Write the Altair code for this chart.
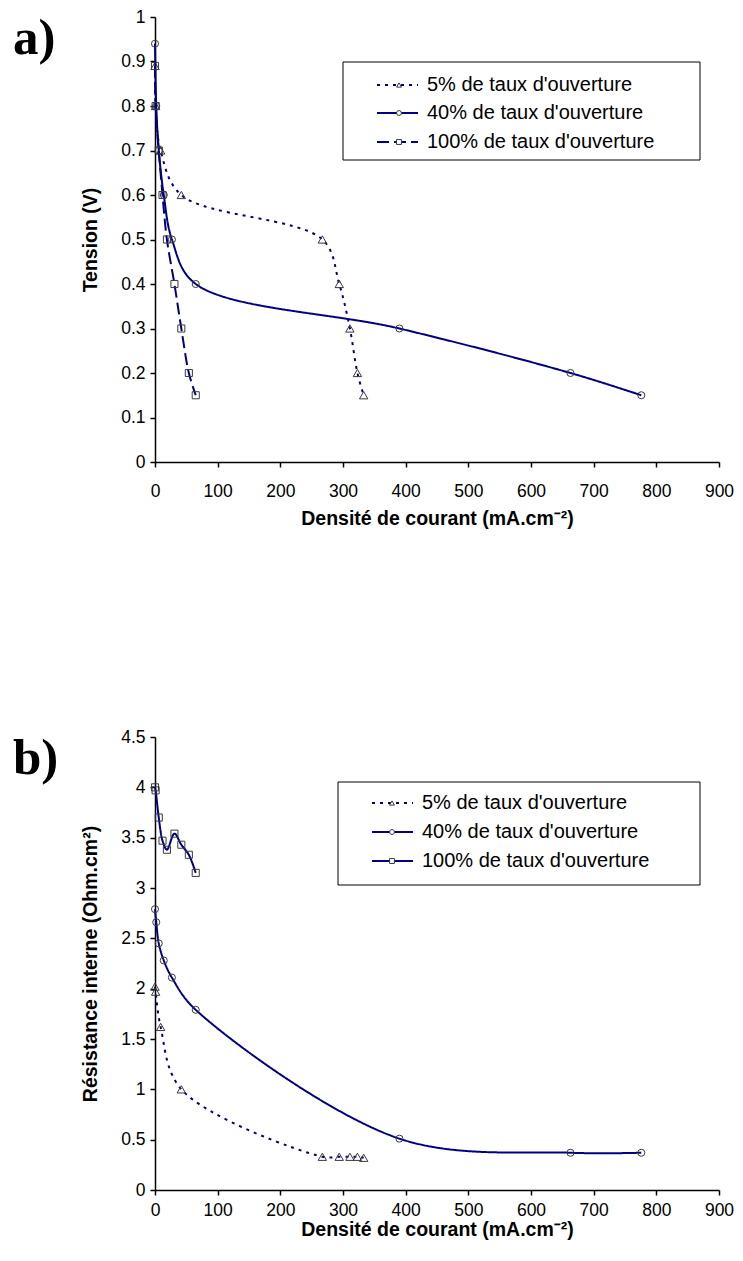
import altair as alt
import pandas as pd

# ---------------- data ----------------
series_names = ["5% de taux d'ouverture", "40% de taux d'ouverture", "100% de taux d'ouverture"]

# current density (mA.cm-2) for each series
j_5 = [0, 1, 9, 42, 267, 294, 311, 323, 333]
j_40 = [0, 2, 6, 14, 27, 65, 390, 663, 776]
j_100 = [0, 1, 6, 12, 19, 31, 42, 54, 65]

# a) voltage (V)
v_5 = [0.89, 0.80, 0.70, 0.60, 0.50, 0.40, 0.30, 0.20, 0.15]
v_40 = [0.94, 0.80, 0.70, 0.60, 0.50, 0.40, 0.30, 0.20, 0.15]
v_100 = [0.89, 0.80, 0.70, 0.60, 0.50, 0.40, 0.30, 0.20, 0.15]

# b) internal resistance (Ohm.cm2)
r_5 = [2.02, 1.97, 1.62, 1.00, 0.33, 0.33, 0.33, 0.33, 0.32]
r_40 = [2.79, 2.66, 2.45, 2.28, 2.11, 1.79, 0.51, 0.37, 0.37]
r_100 = [4.00, 3.97, 3.70, 3.47, 3.38, 3.54, 3.43, 3.33, 3.15]

x_ticks = [0, 100, 200, 300, 400, 500, 600, 700, 800, 900]
ya_ticks = [0, 0.1, 0.2, 0.3, 0.4, 0.5, 0.6, 0.7, 0.8, 0.9, 1]
yb_ticks = [0, 0.5, 1, 1.5, 2, 2.5, 3, 3.5, 4, 4.5]

# ---------------- styles ----------------
NAVY = "#000080"
MARK = "#3a3a3a"
W = 564
styles = [
    {"shape": "triangle-up", "size": 70},
    {"shape": "circle", "size": 50},
    {"shape": "square", "size": 50},
]
FONT = "Liberation Sans"


def panel(js, ys, ymax, yticks, ytitle, letter, H, leg, dashes, lpad, tpad):
    layers = []
    for name, jx, yv, st, dsh in zip(series_names, js, ys, styles, dashes):
        df = pd.DataFrame({"j": jx, "y": yv, "s": name})
        base = alt.Chart(df)
        xenc = alt.X("j:Q", scale=alt.Scale(domain=[0, 900], nice=False),
                     axis=alt.Axis(values=x_ticks, format="d", labelFlush=False,
                                   labelPadding=lpad, titlePadding=tpad,
                                   title="Densité de courant (mA.cm⁻²)"))
        yenc = alt.Y("y:Q", scale=alt.Scale(domain=[0, ymax], nice=False),
                     axis=alt.Axis(values=yticks, format="~g", labelFlush=False, title=ytitle))
        layers.append(base.mark_line(color=NAVY, strokeWidth=2, strokeDash=dsh,
                                     interpolate="catmull-rom").encode(x=xenc, y=yenc, order="j:Q"))
        layers.append(base.mark_point(shape=st["shape"], size=st["size"], filled=False,
                                      stroke=MARK, strokeWidth=1, opacity=1).encode(x=xenc, y=yenc))
    # legend box
    lx0, lx1, ly0, ly1, rows, seg0, seg1, mk, tx = leg
    one = alt.InlineData(values=[{"k": 0}])
    layers.append(alt.Chart(one).mark_rect(fill="white", stroke="black", strokeWidth=1).encode(
        x=alt.value(lx0), x2=alt.value(lx1), y=alt.value(ly0), y2=alt.value(ly1)))
    for name, st, ry, dsh in zip(series_names, styles, rows, dashes):
        d = alt.InlineData(values=[{"label": name}])
        layers.append(alt.Chart(d).mark_rule(color=NAVY, strokeWidth=2, strokeDash=dsh).encode(
            x=alt.value(seg0), x2=alt.value(seg1), y=alt.value(ry)))
        layers.append(alt.Chart(d).mark_point(shape=st["shape"], size=24, filled=True, fill="white",
                                              stroke=MARK, strokeWidth=1, opacity=1).encode(
            x=alt.value(mk), y=alt.value(ry)))
        layers.append(alt.Chart(d).mark_text(align="left", baseline="middle", font=FONT,
                                             fontSize=20, color="black").encode(
            x=alt.value(tx), y=alt.value(ry), text="label:N"))
    layers.append(alt.Chart(alt.InlineData(values=[{"t": letter}])).mark_text(
        align="left", baseline="top", font="Liberation Serif", fontWeight="bold",
        fontSize=51, color="black").encode(x=alt.value(-142), y=alt.value(-3), text="t:N"))
    return alt.layer(*layers).properties(width=W, height=H)


top = panel([j_5, j_40, j_100], [v_5, v_40, v_100], 1, ya_ticks, "Tension (V)", "a)", 445,
            (188, 545, 45, 143, [68, 96, 125], 222, 263, 244, 272),
            [[3, 5], [1, 0], [12, 5]], 15, 10)
bottom = panel([j_5, j_40, j_100], [r_5, r_40, r_100], 4.5, yb_ticks,
               "Résistance interne (Ohm.cm²)", "b)", 453,
               (183, 545, 45, 148, [66, 95, 124], 217, 258, 237, 267),
               [[3, 5], [1, 0], [1, 0]], 6, 2)

chart = alt.vconcat(top, bottom, spacing=200).properties(
    padding={"left": 5, "top": 0, "right": 0, "bottom": 2}
).configure_view(stroke=None).configure_axis(
    labelFont=FONT, titleFont=FONT, labelFontSize=17.5, titleFontSize=19.5,
    titleFontWeight="bold", labelColor="black", titleColor="black",
    domainColor="black", tickColor="black", domainWidth=1.5, tickWidth=1.5,
    tickSize=5, grid=False,
).configure_axisY(labelPadding=5, titlePadding=20)

chart.save("out.html", embed_options={"renderer": "svg", "actions": False})
